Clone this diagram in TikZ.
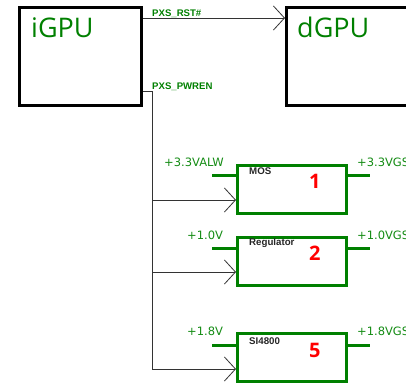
\documentclass[tikz,border=0pt]{standalone}
\usepackage{fontspec}
\setmainfont{Open Sans}
\newfontfamily\labfont{Liberation Sans}
\newfontfamily\voltfont{DejaVu Sans}
\usetikzlibrary{arrows.meta}
\definecolor{sgreen}{RGB}{0,128,0}
\definecolor{tgreen}{RGB}{20,140,20}
\begin{document}
\begin{tikzpicture}[x=1pt,y=-1pt,
  bigbox/.style={draw=black,line width=3pt,fill=white,inner sep=0pt,minimum width=122pt,minimum height=98pt,anchor=north west},
  gbox/.style={draw=sgreen,line width=2.5pt,fill=white,inner sep=0pt,minimum width=109pt,minimum height=48pt,anchor=north west},
  bigtext/.style={text=sgreen,font=\fontsize{27}{30}\selectfont,anchor=base west,inner sep=0pt},
  netlab/.style={text=sgreen,font=\labfont\bfseries\fontsize{9.6}{11}\selectfont,anchor=base west,inner sep=0pt},
  volt/.style={text=tgreen,font=\voltfont\fontsize{11.5}{13}\selectfont,anchor=base west,inner sep=0pt},
  partlab/.style={text=black!85,font=\labfont\bfseries\fontsize{9.7}{11}\selectfont,anchor=base west,inner sep=0pt},
  numlab/.style={text=red,font=\bfseries\fontsize{20}{22}\selectfont,anchor=base west,inner sep=0pt},
  conn/.style={draw=black!80,line width=0.8pt},
  arr/.style={conn,-{Straight Barb[length=11pt,width=24pt,line width=0.8pt]}},
  stub/.style={draw=sgreen,line width=3pt}]
\clip (0,0) rectangle (406,383);
\fill[white] (0,0) rectangle (406,383);
% GPUs
\node[bigbox] (igpu) at (18,6) {};
\node[bigbox,minimum width=135pt] (dgpu) at (285,6) {};
\node[bigtext] (igput) at (31,37) {iGPU};
\node[bigtext] (dgput) at (297,37) {dGPU};
% nets
\coordinate (rsty) at (0,18);
\draw[arr] (igpu.east |- rsty) -- (dgpu.west |- rsty);
\node[netlab] (rstlab) at (152,16.5) {PXS\_RST\#};
\node[netlab] (pwrlab) at (152,89) {PXS\_PWREN};
\coordinate (pw0) at (0,91);
\coordinate (bus) at (152,91);
\coordinate (busend) at (152,369);
% boxes
\node[gbox] (b1) at (236,164) {};
\node[gbox] (b2) at (236,236) {};
\node[gbox] (b3) at (236,332) {};
\draw[conn] (igpu.east |- pw0) -- (bus) -- (busend);
\coordinate (a1) at (152,200);
\coordinate (a2) at (152,272);
\draw[arr] (a1) -- (b1.west |- a1);
\draw[arr] (a2) -- (b2.west |- a2);
\draw[arr] (busend) -- (b3.west |- busend);
% stubs
\coordinate (s1) at (212,175);
\coordinate (s2) at (212,248);
\coordinate (s3) at (212,345);
\coordinate (t1) at (370,175);
\coordinate (t2) at (370,248);
\coordinate (t3) at (370,345);
\draw[stub] (s1) -- (b1.west |- s1);
\draw[stub] (b1.east |- t1) -- (t1);
\draw[stub] (s2) -- (b2.west |- s2);
\draw[stub] (b2.east |- t2) -- (t2);
\draw[stub] (s3) -- (b3.west |- s3);
\draw[stub] (b3.east |- t3) -- (t3);
% labels
\node[volt] (v1i) at (164,166.5) {+3.3VALW};
\node[volt] (v1o) at (357,166.5) {+3.3VGS};
\node[volt] (v2i) at (187,239) {+1.0V};
\node[volt] (v2o) at (357,239) {+1.0VGS};
\node[volt] (v3i) at (187,335.5) {+1.8V};
\node[volt] (v3o) at (357,335.5) {+1.8VGS};
\node[partlab] (p1) at (249,174) {MOS};
\node[partlab] (p2) at (249,245) {Regulator};
\node[partlab] (p3) at (249,344) {SI4800};
\node[numlab] (n1) at (309,188.5) {1};
\node[numlab] (n2) at (309,260) {2};
\node[numlab] (n3) at (309,357) {5};
\end{tikzpicture}
\end{document}
